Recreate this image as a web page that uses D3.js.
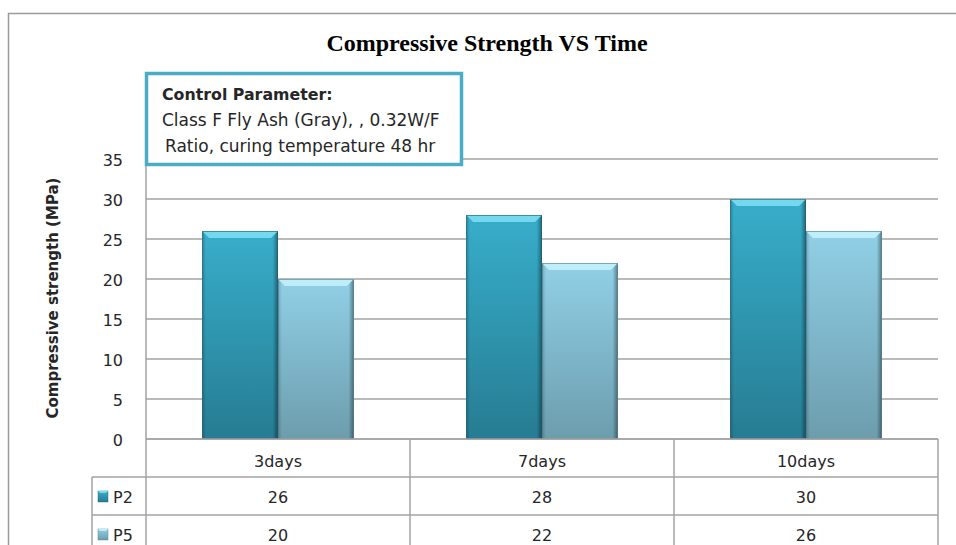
<!DOCTYPE html>
<html>
<head>
<meta charset="utf-8">
<script src="https://cdn.jsdelivr.net/npm/d3@7"></script>
<style>
  body { margin: 0; background: #fff; }
  text { font-family: 'DejaVu Sans', sans-serif; fill: #262626; }
  .title { font-family: 'Liberation Serif', serif; font-weight: bold; fill: #000; }
</style>
</head>
<body>
<svg id="chart" width="956" height="545"></svg>
<script>
const categories = ['3days', '7days', '10days'];
const seriesNames = ['P2', 'P5'];
const p2Values = [26, 28, 30];
const p5Values = [20, 22, 26];
const yTicks = [0, 5, 10, 15, 20, 25, 30, 35];
const noteLines = ['Class F Fly Ash (Gray), , 0.32W/F', 'Ratio, curing temperature 48 hr'];

const seriesValues = [p2Values, p5Values];
const palette = {
  P2: { top: '#38aecb', bottom: '#267c92', bevel: '#74d8ef', edge: '#1d5d6d' },
  P5: { top: '#91d0e7', bottom: '#6c9dad', bevel: '#bdeefa', edge: '#4f7a88' },
};

const svg = d3.select('#chart');
const width = 956;
const height = 545;
const plot = { left: 146, right: 938, top: 159, bottom: 439 };
const rowH = 38;
const gridColor = '#a3a3a3';

const x = d3.scaleBand()
  .domain(categories)
  .range([plot.left, plot.right]);
const xs = d3.scaleBand()
  .domain(seriesNames)
  .range([0, x.bandwidth()])
  .paddingOuter(0.74);
const y = d3.scaleLinear()
  .domain([0, 35])
  .range([plot.bottom, plot.top]);

// gradients
const defs = svg.append('defs');
seriesNames.forEach(s => {
  const g = defs.append('linearGradient')
    .attr('id', `grad-${s}`)
    .attr('x1', 0).attr('y1', 0).attr('x2', 0).attr('y2', 1);
  g.append('stop').attr('offset', '0%').attr('stop-color', palette[s].top);
  g.append('stop').attr('offset', '100%').attr('stop-color', palette[s].bottom);
});
const side = defs.append('linearGradient')
  .attr('id', 'side-shade')
  .attr('x1', 0).attr('y1', 0).attr('x2', 1).attr('y2', 0);
side.append('stop').attr('offset', '0%').attr('stop-color', '#000').attr('stop-opacity', 0.2);
side.append('stop').attr('offset', '5%').attr('stop-color', '#000').attr('stop-opacity', 0);
side.append('stop').attr('offset', '93%').attr('stop-color', '#000').attr('stop-opacity', 0);
side.append('stop').attr('offset', '100%').attr('stop-color', '#000').attr('stop-opacity', 0.4);

// outer chart border (runs off the picture at right and bottom)
svg.append('rect')
  .attr('x', 8.5).attr('y', 13.5)
  .attr('width', width + 20).attr('height', height + 20)
  .attr('fill', 'none')
  .attr('stroke', '#9a9a9a')
  .attr('stroke-width', 1.5);

// title
svg.append('text')
  .attr('class', 'title')
  .attr('x', 487)
  .attr('y', 51)
  .attr('text-anchor', 'middle')
  .attr('font-size', 24)
  .text('Compressive Strength VS Time');

// gridlines
svg.append('g')
  .selectAll('line')
  .data(yTicks)
  .join('line')
    .attr('x1', plot.left).attr('x2', plot.right)
    .attr('y1', d => y(d)).attr('y2', d => y(d))
    .attr('stroke', gridColor)
    .attr('stroke-width', 1.5);

// left axis line
svg.append('line')
  .attr('x1', plot.left).attr('x2', plot.left)
  .attr('y1', plot.top).attr('y2', plot.bottom)
  .attr('stroke', gridColor)
  .attr('stroke-width', 1.5);

// y tick labels
const yAxis = d3.axisLeft(y)
  .tickValues(yTicks)
  .tickSize(0)
  .tickPadding(0);
svg.append('g')
  .attr('transform', 'translate(123, 1)')
  .call(yAxis)
  .call(g => g.select('.domain').remove())
  .selectAll('text')
    .attr('font-family', "'DejaVu Sans', sans-serif")
    .attr('font-size', 16)
    .attr('fill', '#262626');

// y axis title
svg.append('text')
  .attr('transform', `translate(58, 298) rotate(-90)`)
  .attr('text-anchor', 'middle')
  .attr('font-size', 15)
  .attr('font-weight', 'bold')
  .attr('fill', '#000')
  .text('Compressive strength (MPa)');

// bars
const barData = [];
seriesNames.forEach((s, si) => {
  categories.forEach((c, ci) => {
    barData.push({ series: s, category: c, value: seriesValues[si][ci] });
  });
});

const bars = svg.append('g')
  .selectAll('g')
  .data(barData)
  .join('g')
    .attr('transform', d => `translate(${x(d.category) + xs(d.series)}, 0)`);

const bw = xs.bandwidth();
const bevel = 7;

bars.append('rect')
  .attr('x', 0)
  .attr('y', d => y(d.value))
  .attr('width', bw)
  .attr('height', d => y(0) - y(d.value))
  .attr('fill', d => `url(#grad-${d.series})`);

bars.append('rect')
  .attr('x', 0)
  .attr('y', d => y(d.value))
  .attr('width', bw)
  .attr('height', d => y(0) - y(d.value))
  .attr('fill', 'url(#side-shade)');

bars.append('path')
  .attr('d', d => {
    const t = y(d.value);
    return `M0,${t} L${bw},${t} L${bw - bevel},${t + bevel} L${bevel},${t + bevel} Z`;
  })
  .attr('fill', d => palette[d.series].bevel);

bars.append('rect')
  .attr('x', 0.5)
  .attr('y', d => y(d.value) + 0.5)
  .attr('width', bw - 1)
  .attr('height', d => y(0) - y(d.value) - 1)
  .attr('fill', 'none')
  .attr('stroke', d => palette[d.series].edge)
  .attr('stroke-opacity', 0.6)
  .attr('stroke-width', 1);

// data table
const table = svg.append('g');
const tableLeft = 92;
const rowTops = [plot.bottom, plot.bottom + rowH, plot.bottom + rowH * 2, plot.bottom + rowH * 3];

table.append('line')
  .attr('x1', plot.left).attr('x2', plot.right)
  .attr('y1', plot.bottom).attr('y2', plot.bottom)
  .attr('stroke', gridColor).attr('stroke-width', 1.5);

table.selectAll('.hline')
  .data(rowTops.slice(1))
  .join('line')
    .attr('class', 'hline')
    .attr('x1', tableLeft).attr('x2', plot.right)
    .attr('y1', d => d).attr('y2', d => d)
    .attr('stroke', gridColor).attr('stroke-width', 1.5);

const colEdges = categories.map(c => x(c)).concat([x(categories[categories.length - 1]) + x.bandwidth()]);
table.selectAll('.vline')
  .data(colEdges)
  .join('line')
    .attr('class', 'vline')
    .attr('x1', d => d).attr('x2', d => d)
    .attr('y1', plot.bottom).attr('y2', height + 10)
    .attr('stroke', gridColor).attr('stroke-width', 1.5);

table.append('line')
  .attr('x1', tableLeft).attr('x2', tableLeft)
  .attr('y1', rowTops[1]).attr('y2', height + 10)
  .attr('stroke', gridColor).attr('stroke-width', 1.5);

// header labels
table.selectAll('.cat')
  .data(categories)
  .join('text')
    .attr('class', 'cat')
    .attr('x', d => x(d) + x.bandwidth() / 2)
    .attr('y', plot.bottom + rowH / 2 + 3)
    .attr('dy', '0.35em')
    .attr('text-anchor', 'middle')
    .attr('font-size', 16)
    .text(d => d);

// value rows
seriesNames.forEach((s, si) => {
  const rowMid = rowTops[si + 1] + rowH / 2 + 1;
  table.selectAll(`.val-${s}`)
    .data(seriesValues[si])
    .join('text')
      .attr('x', (d, i) => x(categories[i]) + x.bandwidth() / 2)
      .attr('y', rowMid)
      .attr('dy', '0.35em')
      .attr('text-anchor', 'middle')
      .attr('font-size', 16)
      .text(d => d);

  table.append('rect')
    .attr('x', 98).attr('y', rowMid - 6)
    .attr('width', 10).attr('height', 11)
    .attr('fill', `url(#grad-${s})`)
    .attr('stroke', palette[s].edge)
    .attr('stroke-opacity', 0.5)
    .attr('stroke-width', 0.8);
  table.append('path')
    .attr('d', `M98,${rowMid - 6} L108,${rowMid - 6} L106,${rowMid - 4} L100,${rowMid - 4} Z`)
    .attr('fill', palette[s].bevel);

  table.append('text')
    .attr('x', 113)
    .attr('y', rowMid)
    .attr('dy', '0.35em')
    .attr('font-size', 16)
    .text(s);
});

// annotation box
const note = svg.append('g');
note.append('rect')
  .attr('x', 146.5).attr('y', 73.5)
  .attr('width', 315).attr('height', 91)
  .attr('fill', '#fff')
  .attr('stroke', '#4bacc6')
  .attr('stroke-width', 3.5);
note.append('text')
  .attr('x', 162).attr('y', 100)
  .attr('font-size', 15.8)
  .attr('font-weight', 'bold')
  .attr('fill', '#000')
  .text('Control Parameter:');
note.selectAll('.note-line')
  .data(noteLines)
  .join('text')
    .attr('class', 'note-line')
    .attr('x', (d, i) => i === 0 ? 162 : 165)
    .attr('y', (d, i) => 126 + i * 26)
    .attr('font-size', 17)
    .text(d => d);
</script>
</body>
</html>
